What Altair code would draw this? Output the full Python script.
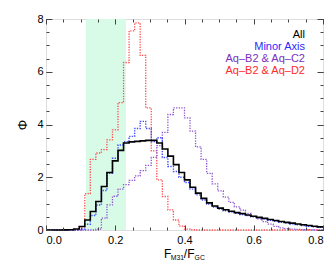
import altair as alt
import pandas as pd

# ---- data (histograms, bin width 0.016 from 0 to 0.8) ----
bin_width = 0.016
n_bins = 50
x_max = 0.8

all_vals = [0, 0, 0, 0.005, 0.01, 0.04, 0.13, 0.38, 0.70, 1.08,
            1.65, 2.18, 2.62, 3.02, 3.30, 3.34, 3.36, 3.38, 3.40, 3.40,
            3.30, 3.07, 2.80, 2.48, 2.18, 1.90, 1.62, 1.40, 1.20, 1.03,
            0.91, 0.83, 0.77, 0.71, 0.66, 0.62, 0.57, 0.52, 0.48, 0.44,
            0.40, 0.36, 0.32, 0.29, 0.26, 0.23, 0.20, 0.17, 0.14, 0.12]

minor_vals = [0, 0, 0, 0, 0, 0, 0.04, 0.22, 0.55, 0.95,
              1.50, 2.15, 2.72, 3.22, 3.35, 3.55, 3.85, 4.12, 3.85, 3.35,
              3.50, 2.75, 2.41, 2.22, 2.00, 1.80, 1.55, 1.33, 1.14, 0.98,
              0.87, 0.79, 0.73, 0.68, 0.63, 0.59, 0.55, 0.50, 0.46, 0.42,
              0.37, 0.33, 0.29, 0.26, 0.23, 0.20, 0.17, 0.14, 0.12, 0.10]

bc_vals = [0, 0, 0, 0, 0, 0, 0, 0, 0, 0.03,
           0.45, 0.95, 1.28, 1.55, 1.72, 1.88, 2.05, 2.25, 2.45, 2.75,
           3.20, 3.70, 4.38, 4.63, 4.63, 4.25, 3.75, 3.15, 2.68, 2.15,
           1.75, 1.48, 1.25, 1.05, 0.88, 0.75, 0.63, 0.52, 0.42, 0.32,
           0.22, 0.14, 0.08, 0.05, 0.03, 0.02, 0.01, 0.01, 0, 0]

bd_vals = [0, 0, 0, 0, 0, 0, 0.12, 1.38, 2.68, 2.92,
           3.05, 3.42, 3.80, 4.83, 6.35, 7.55, 7.85, 6.62, 4.63, 3.00,
           1.90, 1.27, 0.76, 0.38, 0.15, 0.03, 0.01, 0, 0, 0,
           0, 0, 0, 0, 0, 0, 0, 0, 0, 0,
           0, 0, 0, 0, 0, 0, 0, 0, 0, 0]

series_names = ["All", "Minor Axis", "Aq\u2013B2 & Aq\u2013C2", "Aq\u2013B2 & Aq\u2013D2"]
series_colors = ["#000000", "#2a2aff", "#7a2fc0", "#ff2a2a"]
line_colors = ["#000000", "#3d4dff", "#8e55d0", "#ff4d4d"]

band_lo, band_hi = 0.115, 0.231

x_major = [0.0, 0.2, 0.4, 0.6, 0.8]
x_minor = [round(0.05 * i, 2) for i in range(17)]
y_major = [0, 2, 4, 6, 8]
y_minor = [0.5 * i for i in range(17)]

W, H = 277, 211
FONT = "Liberation Sans"


def hist_df(vals):
    xs = [round(i * bin_width, 3) for i in range(n_bins)] + [x_max]
    ys = list(vals) + [vals[-1]]
    return pd.DataFrame({"x": xs, "y": ys})


xs = alt.Scale(domain=[0, x_max], nice=False, zero=False)
ys = alt.Scale(domain=[0, 8], nice=False, zero=False)


def ax(orient, values, size, labels=False, fmt=None, title=None, pad=3):
    kw = dict(orient=orient, values=values, tickSize=size, offset=-size,
              domain=False, grid=False, labels=labels, ticks=True,
              tickColor="#444444", tickWidth=1, zindex=1,
              labelFontSize=11, labelColor="#000000", labelFont=FONT,
              labelPadding=pad)
    if fmt:
        kw["format"] = fmt
    if title:
        kw.update(title=title, titleFontSize=13, titleFontWeight="normal",
                  titleFont=FONT, titlePadding=7, titleColor="#000000")
    else:
        kw["title"] = None
    return alt.Axis(**kw)


band = alt.Chart(pd.DataFrame({"lo": [band_lo], "hi": [band_hi]})).mark_rect(
    color="#d8fbe8").encode(
    x=alt.X("lo:Q", scale=xs, axis=ax("bottom", x_major, 5, True, ".1f", pad=4)),
    x2="hi:Q")


def line(vals, color, dotted, xaxis, yaxis, width):
    props = dict(interpolate="step-after", color=color, strokeWidth=width)
    if dotted:
        props["strokeDash"] = [1.3, 1.3]
    return alt.Chart(hist_df(vals)).mark_line(**props).encode(
        x=alt.X("x:Q", scale=xs, axis=xaxis),
        y=alt.Y("y:Q", scale=ys, axis=yaxis))


red = line(bd_vals, line_colors[3], True, ax("bottom", x_minor, 3), ax("left", y_minor, 3), 1.3)
purple = line(bc_vals, line_colors[2], True, ax("top", x_major, 5), ax("right", y_major, 6), 1.3)
blue = line(minor_vals, line_colors[1], True, ax("top", x_minor, 3), ax("right", y_minor, 3), 1.4)
black = line(all_vals, line_colors[0], False, None,
             ax("left", y_major, 6, True, "d", title="\u03a6", pad=3), 1.6)

layers = [band, red, purple, blue, black]

# legend text (right aligned, upper right)
leg_y = [15.5, 27.8, 40.1, 52.4]
for name, col, yy in zip(series_names, series_colors, leg_y):
    layers.append(alt.Chart(pd.DataFrame({"t": [name]})).mark_text(
        align="right", baseline="middle", fontSize=11, font=FONT, color=col).encode(
        text="t:N", x=alt.value(259), y=alt.value(yy)))

# x-axis title with subscripts: F_M31 / F_GC
title_parts = [("F", 118, 238.5, 12), ("M31", 124.8, 241, 6.8),
               ("/F", 137.8, 238.5, 12), ("GC", 148.6, 241, 6.8)]
for txt, px, py, fs in title_parts:
    layers.append(alt.Chart(pd.DataFrame({"t": [txt]})).mark_text(
        align="left", baseline="alphabetic", fontSize=fs, font=FONT, color="#000000").encode(
        text="t:N", x=alt.value(px), y=alt.value(py)))

chart = alt.layer(*layers).resolve_axis(x="independent", y="independent").properties(
    width=W, height=H,
    autosize=alt.AutoSizeParams(type="none"),
    padding={"left": 38, "top": 11, "right": 3, "bottom": 37},
    background="white",
).configure_view(stroke="#444444", strokeWidth=1).configure(font=FONT)

chart.save("out.html", embed_options={"renderer": "svg", "actions": False})
